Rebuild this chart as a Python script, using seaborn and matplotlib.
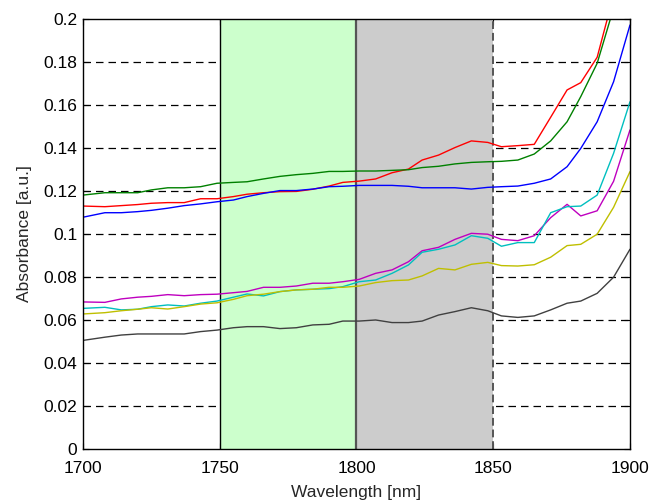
import numpy as np
import pandas as pd
import matplotlib
matplotlib.use("Agg")
import matplotlib.pyplot as plt
import seaborn as sns

wavelength = [1700, 1708, 1714, 1720, 1725, 1731, 1737, 1743, 1749, 1755,
              1760, 1766, 1772, 1778, 1784, 1790, 1795, 1801, 1807, 1813,
              1819, 1824, 1830, 1836, 1842, 1848, 1853, 1859, 1865, 1871,
              1877, 1882, 1888, 1894, 1900]

red = [0.1130, 0.1127, 0.1132, 0.1137, 0.1143, 0.1146, 0.1146, 0.1164, 0.1164, 0.1174,
       0.1185, 0.1192, 0.1197, 0.1198, 0.1208, 0.1223, 0.1240, 0.1246, 0.1256, 0.1285,
       0.1302, 0.1344, 0.1367, 0.1402, 0.1433, 0.1426, 0.1406, 0.1411, 0.1417, 0.1543,
       0.1670, 0.1704, 0.1822, 0.2110, 0.2350]
green = [0.1181, 0.1192, 0.1192, 0.1192, 0.1205, 0.1215, 0.1215, 0.1220, 0.1236, 0.1240,
         0.1243, 0.1256, 0.1268, 0.1276, 0.1282, 0.1291, 0.1291, 0.1293, 0.1293, 0.1296,
         0.1299, 0.1309, 0.1315, 0.1326, 0.1333, 0.1336, 0.1338, 0.1344, 0.1372, 0.1433,
         0.1522, 0.1639, 0.1794, 0.2050, 0.2300]
blue = [0.1078, 0.1099, 0.1099, 0.1104, 0.1110, 0.1120, 0.1132, 0.1140, 0.1150, 0.1158,
        0.1174, 0.1189, 0.1202, 0.1202, 0.1209, 0.1220, 0.1222, 0.1226, 0.1226, 0.1226,
        0.1222, 0.1215, 0.1215, 0.1215, 0.1209, 0.1217, 0.1220, 0.1223, 0.1236, 0.1256,
        0.1313, 0.1398, 0.1522, 0.1708, 0.1972]
magenta = [0.0684, 0.0682, 0.0698, 0.0706, 0.0710, 0.0718, 0.0713, 0.0718, 0.0720, 0.0727,
           0.0733, 0.0752, 0.0752, 0.0758, 0.0771, 0.0771, 0.0778, 0.0789, 0.0817, 0.0833,
           0.0871, 0.0922, 0.0938, 0.0975, 0.1003, 0.0999, 0.0975, 0.0969, 0.0992, 0.1076,
           0.1138, 0.1084, 0.1108, 0.1245, 0.1484]
cyan = [0.0654, 0.0659, 0.0647, 0.0650, 0.0662, 0.0670, 0.0665, 0.0678, 0.0688, 0.0706,
        0.0721, 0.0712, 0.0732, 0.0740, 0.0743, 0.0746, 0.0755, 0.0778, 0.0786, 0.0817,
        0.0856, 0.0915, 0.0929, 0.0949, 0.0992, 0.0980, 0.0943, 0.0960, 0.0960, 0.1099,
        0.1127, 0.1130, 0.1181, 0.1375, 0.1615]
yellow = [0.0628, 0.0634, 0.0643, 0.0650, 0.0657, 0.0651, 0.0662, 0.0674, 0.0680, 0.0696,
          0.0713, 0.0720, 0.0732, 0.0740, 0.0743, 0.0752, 0.0752, 0.0758, 0.0774, 0.0783,
          0.0786, 0.0805, 0.0840, 0.0833, 0.0859, 0.0868, 0.0853, 0.0851, 0.0857, 0.0892,
          0.0946, 0.0952, 0.0999, 0.1124, 0.1290]
black = [0.0505, 0.0520, 0.0530, 0.0535, 0.0535, 0.0535, 0.0535, 0.0546, 0.0553, 0.0564,
         0.0569, 0.0569, 0.0560, 0.0564, 0.0577, 0.0580, 0.0595, 0.0595, 0.0600, 0.0588,
         0.0588, 0.0595, 0.0623, 0.0639, 0.0657, 0.0643, 0.0619, 0.0612, 0.0619, 0.0647,
         0.0678, 0.0688, 0.0724, 0.0799, 0.0929]

series_names = ["red", "green", "blue", "magenta", "cyan", "yellow", "black"]
series_values = [red, green, blue, magenta, cyan, yellow, black]
series_colors = ["#ff0000", "#008000", "#0000ff", "#bf00bf", "#00bfbf", "#bfbf00", "#404040"]

xticks = [1700, 1750, 1800, 1850, 1900]
yticks = [0, 0.02, 0.04, 0.06, 0.08, 0.1, 0.12, 0.14, 0.16, 0.18, 0.2]
ytick_labels = ["0", "0.02", "0.04", "0.06", "0.08", "0.1", "0.12", "0.14", "0.16", "0.18", "0.2"]
green_band = [1750, 1800]
gray_band = [1800, 1850]

frames = []
for name, vals in zip(series_names, series_values):
    frames.append(pd.DataFrame({"Wavelength": wavelength, "Absorbance": vals, "series": name}))
df = pd.concat(frames, ignore_index=True)

sns.set_style("white")
plt.rcParams["font.family"] = ["Liberation Sans", "DejaVu Sans"]

fig = plt.figure(figsize=(6.55, 5.03), dpi=100)
ax = fig.add_axes([0.1267, 0.1074, 0.8351, 0.8548])

# dashed horizontal grid
for yv in yticks[1:-1]:
    ax.axhline(yv, color="black", lw=0.9, ls=(0, (6, 4)), zorder=0.5)

ax.axvspan(*green_band, color="#ccffcc", zorder=1, lw=0)
ax.axvspan(*gray_band, color="#cccccc", zorder=1, lw=0)
ax.axvline(1750, color="black", lw=1.0, zorder=1.5)
ax.axvline(1800, color="#555555", lw=1.6, zorder=1.5)
ax.axvline(1850, color="#555555", lw=1.4, ls=(0, (4, 2)), zorder=1.5)

sns.lineplot(data=df, x="Wavelength", y="Absorbance", hue="series",
             palette=dict(zip(series_names, series_colors)), hue_order=series_names,
             lw=1.0, legend=False, ax=ax, zorder=3)

ax.set_xlim(1700, 1900)
ax.set_ylim(0, 0.2)
ax.set_xticks(xticks)
ax.set_xticklabels([str(t) for t in xticks])
ax.set_yticks(yticks)
ax.set_yticklabels(ytick_labels)
ax.tick_params(direction="in", length=4, width=0.8, labelsize=12.5, colors="black",
               top=True, right=True, bottom=True, left=True)
ax.tick_params(axis="x", pad=9)
ax.tick_params(axis="y", pad=4)
for sp in ax.spines.values():
    sp.set_color("black")
    sp.set_linewidth(1.0)
    sp.set_zorder(4)
ax.set_xlabel("Wavelength [nm]", fontsize=12.5, labelpad=6)
ax.set_ylabel("Absorbance [a.u.]", fontsize=12.5, labelpad=8)

fig.savefig("out.png", dpi=100)
